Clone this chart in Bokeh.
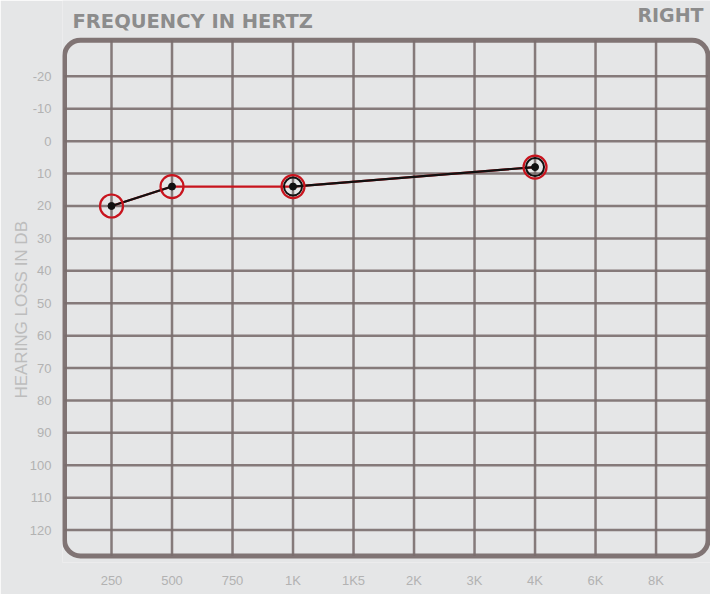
from bokeh.plotting import figure
from bokeh.models import Range1d, FixedTicker, BoxAnnotation, Label, ColumnDataSource
from bokeh.embed import file_html
from bokeh.resources import INLINE

freq_labels = ["250", "500", "750", "1K", "1K5", "2K", "3K", "4K", "6K", "8K"]
db_ticks = [-20, -10, 0, 10, 20, 30, 40, 50, 60, 70, 80, 90, 100, 110, 120]
tested_freqs = ["250", "500", "1K", "4K"]
right_db = [20, 14, 14, 8]

xs = [freq_labels.index(f) for f in tested_freqs]

BG = "#e5e6e7"
GRID = "#7a6e6e"
TXT = "#b2b2b2"

p = figure(width=710, height=594, output_backend="svg", toolbar_location=None,
           x_range=Range1d(-0.81, 9.90), y_range=Range1d(130.0, -43.4),
           min_border_left=62, min_border_right=0, min_border_top=0, min_border_bottom=32)
p.background_fill_color = BG
p.border_fill_color = BG
p.outline_line_color = None
p.xgrid.visible = False
p.ygrid.visible = False

fl, fr, ft, fb = -0.777, 9.86, -31.1, 128.0
# grid
p.segment(x0=[fl] * len(db_ticks), x1=[fr] * len(db_ticks), y0=db_ticks, y1=db_ticks,
          line_color=GRID, line_width=2.5, line_alpha=0.9)
xi = list(range(len(freq_labels)))
p.segment(x0=xi, x1=xi, y0=[ft] * len(xi), y1=[fb] * len(xi),
          line_color=GRID, line_width=2.5, line_alpha=0.9)
p.add_layout(BoxAnnotation(left=fl, right=fr, top=ft, bottom=fb, fill_alpha=0,
                           line_color=GRID, line_alpha=0.95, line_width=5, border_radius=16))

# axes
p.xaxis.ticker = FixedTicker(ticks=xi)
p.xaxis.major_label_overrides = {i: l for i, l in enumerate(freq_labels)}
p.yaxis.ticker = FixedTicker(ticks=db_ticks)
p.yaxis.major_label_overrides = {t: str(t) for t in db_ticks}
for ax in (p.xaxis, p.yaxis):
    ax.axis_line_color = None
    ax.major_tick_line_color = None
    ax.minor_tick_line_color = None
    ax.major_label_text_color = TXT
    ax.major_label_text_font = "Liberation Sans"
    ax.major_label_text_font_size = "13px"
p.xaxis.major_label_standoff = 4
p.yaxis.major_label_standoff = 5
p.yaxis.axis_label = "HEARING LOSS IN DB" + "\u00a0" * 12
p.yaxis.axis_label_text_color = "#bdbdbd"
p.yaxis.axis_label_text_font = "Liberation Sans"
p.yaxis.axis_label_text_font_style = "normal"
p.yaxis.axis_label_text_font_size = "17px"
p.yaxis.axis_label_standoff = -4

# data
src = ColumnDataSource(dict(x=xs, y=right_db))
p.line(xs, right_db, line_color="#c8141e", line_width=2.2)
p.line(xs[:2], right_db[:2], line_color="#111111", line_width=2.2)
p.line(xs[2:], right_db[2:], line_color="#111111", line_width=2.2)
p.scatter("x", "y", source=src, size=23, fill_alpha=0, line_color="#c8141e", line_width=2.2)
p.scatter(xs[2:], right_db[2:], size=18, fill_alpha=0, line_color="#111111", line_width=2)
p.scatter("x", "y", source=src, size=7, fill_color="#111111", line_color="#111111")

p.add_layout(Label(x=-0.645, y=-37.0, text="FREQUENCY IN HERTZ", text_color="#8c8c8c",
                   text_font="DejaVu Sans", text_font_size="19.5px", text_font_style="bold",
                   text_baseline="alphabetic"))
p.add_layout(Label(x=9.785, y=-38.8, text="RIGHT", text_color="#8c8c8c", text_align="right",
                   text_font="DejaVu Sans", text_font_size="19px", text_font_style="bold",
                   text_baseline="alphabetic"))

open("out.html", "w").write(file_html(p, INLINE))
